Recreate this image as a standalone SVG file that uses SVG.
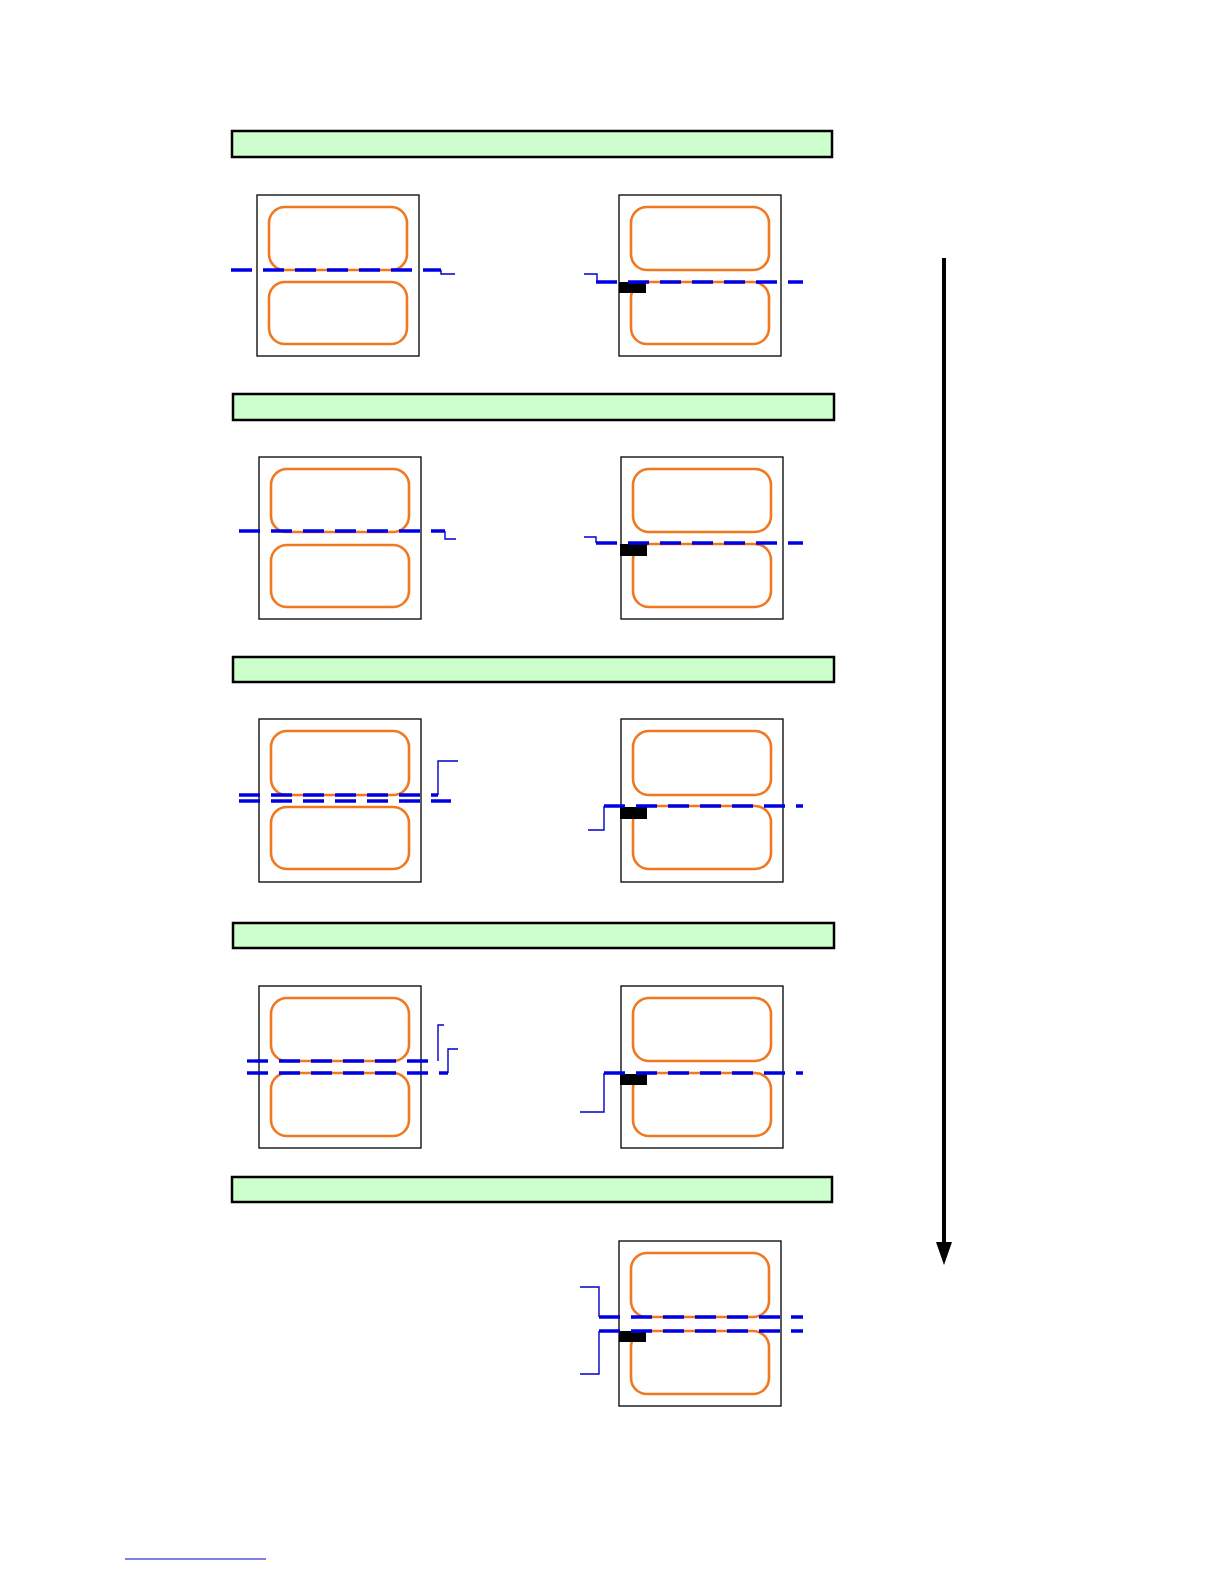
<svg xmlns="http://www.w3.org/2000/svg" width="1224" height="1584" viewBox="0 0 1224 1584">
<style>
.banner{fill:#ccffcc;stroke:#000;stroke-width:2.5}
.box{fill:#fff;stroke:#000;stroke-width:1.3}
.lab{fill:none;stroke:#f07820;stroke-width:2.6}
.cut{fill:none;stroke:#0000e6;stroke-width:3.3;stroke-dasharray:21 11}
.step{fill:none;stroke:#0000cc;stroke-width:1.4}
.mark{fill:#000}
</style>
<rect width="1224" height="1584" fill="#fff"/>
<g id="banners">
<rect id="banner1" class="banner" x="232" y="131" width="600" height="26"/>
<rect id="banner2" class="banner" x="233" y="394" width="601" height="26"/>
<rect id="banner3" class="banner" x="233" y="657" width="601" height="25"/>
<rect id="banner4" class="banner" x="233" y="923" width="601" height="25"/>
<rect id="banner5" class="banner" x="232" y="1177" width="600" height="25"/>
</g>
<g id="r1left">
<rect class="box" x="257" y="195" width="162" height="161"/>
<rect class="lab" x="269" y="207" width="138" height="63" rx="16"/>
<rect class="lab" x="269" y="282" width="138" height="62" rx="16"/>
</g>
<g id="r1right">
<rect class="box" x="619" y="195" width="162" height="161"/>
<rect class="lab" x="631" y="207" width="138" height="63" rx="16"/>
<rect class="lab" x="631" y="282" width="138" height="62" rx="16"/>
<rect class="mark" x="619" y="282" width="27" height="11"/>
</g>
<g id="r2left">
<rect class="box" x="259" y="457" width="162" height="162"/>
<rect class="lab" x="271" y="469" width="138" height="63" rx="16"/>
<rect class="lab" x="271" y="545" width="138" height="62" rx="16"/>
</g>
<g id="r2right">
<rect class="box" x="621" y="457" width="162" height="162"/>
<rect class="lab" x="633" y="469" width="138" height="63" rx="16"/>
<rect class="lab" x="633" y="544" width="138" height="63" rx="16"/>
<rect class="mark" x="620" y="544" width="27" height="12"/>
</g>
<g id="r3left">
<rect class="box" x="259" y="719" width="162" height="163"/>
<rect class="lab" x="271" y="731" width="138" height="64" rx="16"/>
<rect class="lab" x="271" y="807" width="138" height="62" rx="16"/>
</g>
<g id="r3right">
<rect class="box" x="621" y="719" width="162" height="163"/>
<rect class="lab" x="633" y="731" width="138" height="64" rx="16"/>
<rect class="lab" x="633" y="806" width="138" height="63" rx="16"/>
<rect class="mark" x="620" y="807" width="27" height="12"/>
</g>
<g id="r4left">
<rect class="box" x="259" y="986" width="162" height="162"/>
<rect class="lab" x="271" y="998" width="138" height="63" rx="16"/>
<rect class="lab" x="271" y="1073" width="138" height="63" rx="16"/>
</g>
<g id="r4right">
<rect class="box" x="621" y="986" width="162" height="162"/>
<rect class="lab" x="633" y="998" width="138" height="63" rx="16"/>
<rect class="lab" x="633" y="1073" width="138" height="63" rx="16"/>
<rect class="mark" x="620" y="1074" width="27" height="11"/>
</g>
<g id="r5right">
<rect class="box" x="619" y="1241" width="162" height="165"/>
<rect class="lab" x="631" y="1253" width="138" height="64" rx="16"/>
<rect class="lab" x="631" y="1331" width="138" height="63" rx="16"/>
<rect class="mark" x="619" y="1331" width="27" height="11"/>
</g>
<g id="connectors">
<path class="cut" d="M231 270 H441"/>
<path class="step" d="M441 270 V274 H455"/>
<path class="cut" d="M596 282 H803"/>
<path class="step" d="M584 274 H597 V282"/>
<path class="cut" d="M239 531 H445"/>
<path class="step" d="M445 531 V539 H456"/>
<path class="cut" d="M596 543 H803"/>
<path class="step" d="M584 537 H596 V543"/>
<path class="cut" d="M239 795 H438"/>
<path class="step" d="M438 795 V761 H458"/>
<path class="cut" d="M239 801 H451"/>
<path class="cut" d="M604 806 H803"/>
<path class="step" d="M604 806 V830 H588"/>
<path class="cut" d="M247 1061 H431"/>
<path class="step" d="M438 1061 V1025 H444"/>
<path class="cut" d="M247 1073 H448"/>
<path class="step" d="M448 1073 V1049 H458"/>
<path class="cut" d="M604 1073 H803"/>
<path class="step" d="M604 1073 V1112 H580"/>
<path class="cut" d="M599 1317 H803"/>
<path class="step" d="M599 1317 V1287 H580"/>
<path class="cut" d="M599 1331 H803"/>
<path class="step" d="M599 1331 V1374 H580"/>
<line x1="944" y1="258" x2="944" y2="1246" stroke="#000" stroke-width="4"/>
<polygon points="936,1242 952,1242 944,1265" fill="#000"/>
<line x1="125" y1="1559" x2="266" y2="1559" stroke="#0000cc" stroke-width="1.2"/>
</g>
</svg>
